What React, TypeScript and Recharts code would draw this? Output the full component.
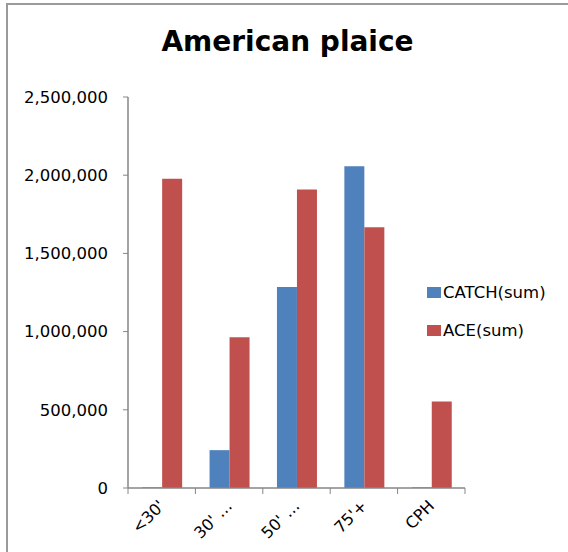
import React from "react";
import { BarChart, Bar, XAxis, YAxis, Legend } from "recharts";

const categories = ["<30'", "30' …", "50' …", "75'+", "CPH"];
const catchSum = [4000, 242000, 1285000, 2058000, 4000];
const aceSum = [1978000, 964000, 1908000, 1667000, 553000];
const yTicks = [0, 500000, 1000000, 1500000, 2000000, 2500000];
const seriesNames = ["CATCH(sum)", "ACE(sum)"];

const data = categories.map((cat, i) => ({
  cat,
  catch: catchSum[i],
  ace: aceSum[i],
}));

const FONT = "'DejaVu Sans', sans-serif";
const AXIS = "#868686";

// category label plus Excel-style tick marks at the band edges
const CategoryTick = (props: any) => {
  const { x, y, payload, index, visibleTicksCount } = props;
  const half = payload.offset || 0;
  const axisY = y - 2;
  const lx = x + 4;
  const ly = axisY + 19;
  return (
    <g>
      <line x1={x - half} x2={x - half} y1={axisY} y2={axisY + 6} stroke={AXIS} />
      {index === visibleTicksCount - 1 && (
        <line x1={x + half} x2={x + half} y1={axisY} y2={axisY + 6} stroke={AXIS} />
      )}
      <text
        x={lx}
        y={ly}
        transform={`rotate(-45, ${lx}, ${ly})`}
        textAnchor="end"
        fontSize={16}
        fontFamily={FONT}
        fill="#000"
      >
        {payload.value}
      </text>
    </g>
  );
};

const LegendBox = (props: any) => {
  const items = [...(props.payload || [])].sort(
    (a: any, b: any) => seriesNames.indexOf(a.value) - seriesNames.indexOf(b.value)
  );
  return (
    <div style={{ fontFamily: FONT, fontSize: 16.5, color: "#000" }}>
      {items.map((p: any) => (
        <div
          key={p.value}
          style={{ display: "flex", alignItems: "center", height: 38 }}
        >
          <span
            style={{
              display: "inline-block",
              width: 14,
              height: 11,
              background: p.color,
              marginRight: 2,
            }}
          />
          <span>{p.value}</span>
        </div>
      ))}
    </div>
  );
};

export default function App() {
  return (
    <div
      style={{
        position: "fixed",
        left: 0,
        top: 0,
        width: 568,
        height: 552,
        background: "#fff",
        overflow: "hidden",
      }}
    >
      <div
        style={{
          position: "absolute",
          left: 6,
          top: 3,
          width: 600,
          height: 600,
          borderTop: "2px solid #9a9a9a",
          borderLeft: "2px solid #9a9a9a",
        }}
      />
      <div
        style={{
          position: "absolute",
          left: 0,
          width: 575,
          top: 26,
          textAlign: "center",
          fontFamily: FONT,
          fontWeight: 700,
          fontSize: 28,
          lineHeight: "32px",
          color: "#000",
        }}
      >
        American plaice
      </div>
      <div style={{ position: "absolute", left: 0, top: 0 }}>
        <BarChart
          width={568}
          height={552}
          data={data}
          margin={{ top: 97, right: 103, bottom: 0, left: 0 }}
          barCategoryGap="21%"
          barGap={0}
        >
          <XAxis
            dataKey="cat"
            interval={0}
            tickLine={false}
            tickSize={0}
            tickMargin={2}
            axisLine={{ stroke: AXIS, strokeWidth: 1.5 }}
            height={64}
            tick={<CategoryTick />}
          />
          <YAxis
            width={128}
            domain={[0, 2500000]}
            ticks={yTicks}
            interval={0}
            tickSize={5}
            tickMargin={15}
            tickLine={{ stroke: AXIS }}
            axisLine={{ stroke: AXIS, strokeWidth: 1.5 }}
            tick={{ fontSize: 16.5, fontFamily: FONT, fill: "#000" }}
            tickFormatter={(v: number) => v.toLocaleString("en-US")}
          />
          <Legend
            layout="vertical"
            align="center"
            verticalAlign="middle"
            content={<LegendBox />}
            wrapperStyle={{ position: "absolute", left: 427, top: 273, width: 141 }}
          />
          <Bar
            dataKey="catch"
            name="CATCH(sum)"
            fill="#4F81BD"
            isAnimationActive={false}
          />
          <Bar
            dataKey="ace"
            name="ACE(sum)"
            fill="#C0504D"
            isAnimationActive={false}
          />
        </BarChart>
      </div>
    </div>
  );
}
